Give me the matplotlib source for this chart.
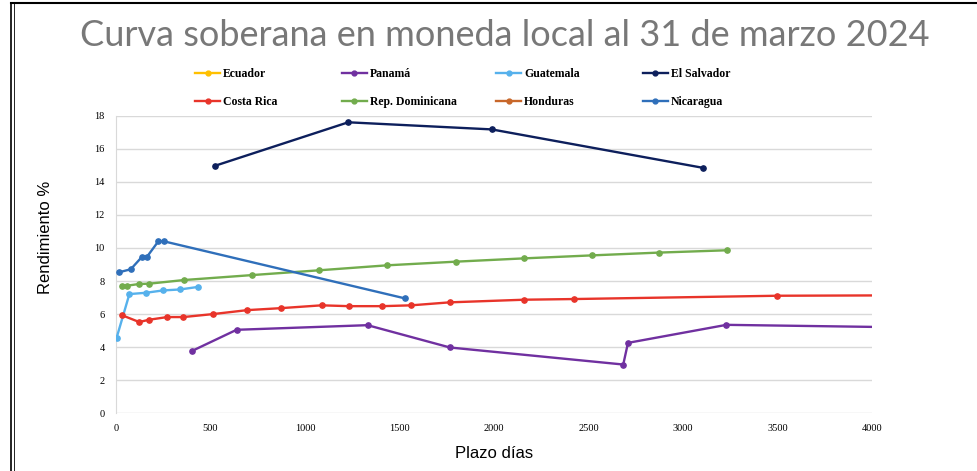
import matplotlib.pyplot as plt
from matplotlib.lines import Line2D

# series values (plazo in dias, rendimiento in %)
salvador_x = [524, 1229, 1988, 3104]
salvador_y = [14.97, 17.6, 17.17, 14.85]

nicaragua_x = [16, 78, 139, 165, 224, 254, 1529]
nicaragua_y = [8.53, 8.71, 9.48, 9.48, 10.4, 10.4, 6.95]

dominicana_x = [30, 60, 122, 176, 360, 721, 1076, 1435, 1797, 2159, 2517, 2874, 3234]
dominicana_y = [7.72, 7.72, 7.82, 7.84, 8.06, 8.36, 8.65, 8.95, 9.17, 9.37, 9.55, 9.72, 9.86]

guatemala_x = [3, 71, 159, 248, 339, 432]
guatemala_y = [4.55, 7.21, 7.29, 7.43, 7.49, 7.64]

costarica_x = [30, 123, 176, 271, 356, 513, 695, 873, 1088, 1232, 1409, 1562,
               1765, 2161, 2421, 3500, 4600]
costarica_y = [5.94, 5.52, 5.66, 5.82, 5.82, 6.0, 6.24, 6.36, 6.53, 6.48, 6.48, 6.53,
               6.71, 6.87, 6.91, 7.11, 7.15]

panama_x = [404, 638, 1331, 1767, 2684, 2709, 3230, 4600]
panama_y = [3.78, 5.05, 5.33, 3.98, 2.95, 4.26, 5.35, 5.13]

legend_names = ['Ecuador', 'Panamá', 'Guatemala', 'El Salvador',
                'Costa Rica', 'Rep. Dominicana', 'Honduras', 'Nicaragua']
legend_colors = ['#FFC000', '#7030A0', '#56B1EC', '#0D1F5C',
                 '#E8342A', '#72AC4D', '#C8672A', '#2F6FBA']

fig = plt.figure(figsize=(9.77, 4.71), dpi=100)
ax = fig.add_axes([0.1187, 0.1225, 0.7738, 0.6319])

series = {
    'Panamá': (panama_x, panama_y),
    'Guatemala': (guatemala_x, guatemala_y),
    'El Salvador': (salvador_x, salvador_y),
    'Costa Rica': (costarica_x, costarica_y),
    'Rep. Dominicana': (dominicana_x, dominicana_y),
    'Nicaragua': (nicaragua_x, nicaragua_y),
}
for name, (xs, ys) in series.items():
    c = legend_colors[legend_names.index(name)]
    ax.plot(xs, ys, color=c, lw=1.7, marker='o', ms=3.8, zorder=3)

ax.set_xlim(0, 4000)
ax.set_ylim(0, 18)
ax.set_xticks(range(0, 4001, 500))
ax.set_yticks(range(0, 19, 2))
ax.grid(axis='y', color='#d9d9d9', lw=1)
ax.set_axisbelow(True)
for s in ['top', 'right', 'bottom']:
    ax.spines[s].set_visible(False)
ax.spines['left'].set_color('#d9d9d9')
ax.tick_params(length=0, labelsize=7.5, pad=8)
for lab in ax.get_xticklabels() + ax.get_yticklabels():
    lab.set_family('Liberation Serif')

ax.set_xlabel('Plazo días', fontsize=12, family='Liberation Sans', labelpad=9)
ax.set_ylabel('Rendimiento %', fontsize=12, family='Liberation Sans')
ax.yaxis.set_label_coords(-0.083, 0.59)

# legend: one small legend per entry, 4 columns x 2 rows (Ecuador, Honduras have no data)
col_x = [0.200, 0.350, 0.508, 0.658]
row_y = [0.843, 0.783]
for i, (name, c) in enumerate(zip(legend_names, legend_colors)):
    h = Line2D([], [], color=c, lw=1.7, marker='o', ms=3.5)
    fig.legend([h], [name], loc='center left',
               bbox_to_anchor=(col_x[i % 4], row_y[i // 4]), frameon=False,
               prop={'family': 'Liberation Serif', 'weight': 'bold', 'size': 8.5},
               handlelength=2.1, handletextpad=0.25, borderpad=0, borderaxespad=0)

fig.text(0.517, 0.925, 'Curva soberana en moneda local al 31 de marzo 2024',
         ha='center', va='center', fontsize=26, color='#787878', family='Lato')

# frame of the slide
fig.add_artist(Line2D([0.011, 0.011], [0, 0.994], color='black', lw=1.2))
fig.add_artist(Line2D([0.014, 0.014], [0, 0.994], color='black', lw=0.6))
fig.add_artist(Line2D([0.011, 1], [0.993, 0.993], color='black', lw=1.5))

fig.savefig('out.png', dpi=100, facecolor='white')
